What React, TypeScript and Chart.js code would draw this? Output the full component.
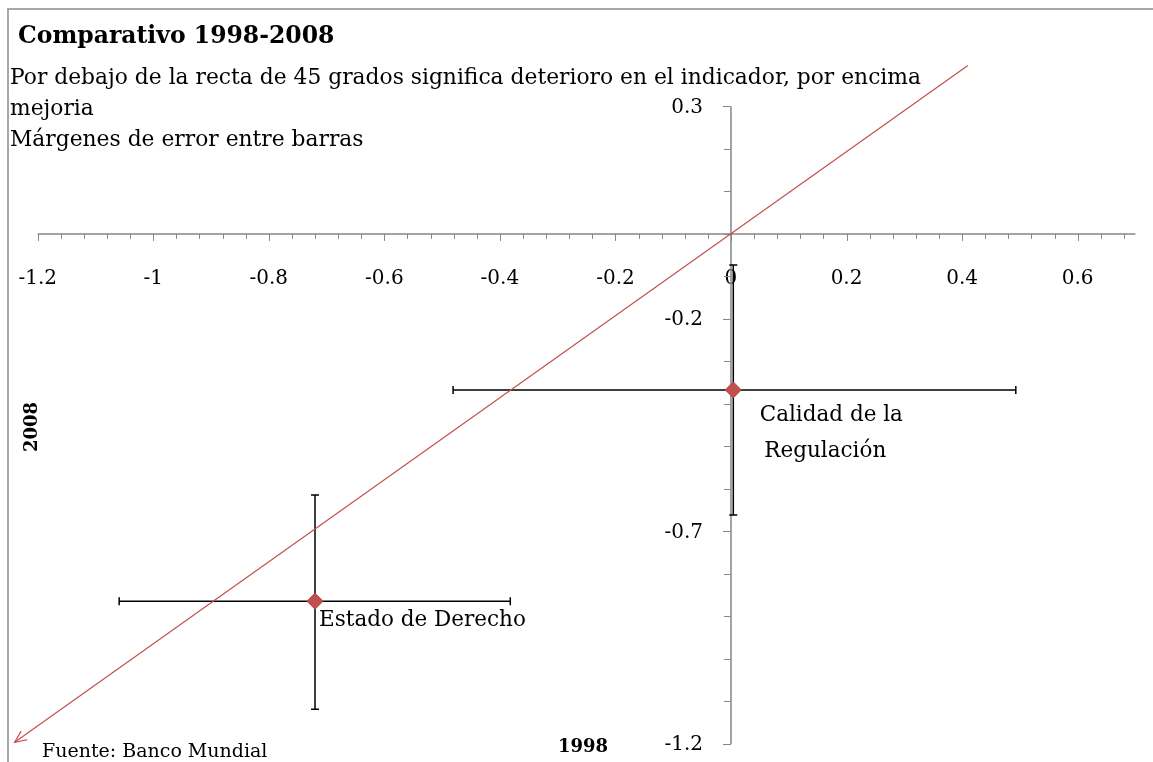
import React, { useEffect, useRef } from 'react';
import { Chart, registerables } from 'chart.js';

Chart.register(...registerables);

// ---- data ----
const categories = ['Calidad de la Regulación', 'Estado de Derecho'];
const x1998 = [0.004, -0.72];
const y2008 = [-0.367, -0.864];
const x1998Low = [-0.481, -1.059];
const x1998High = [0.493, -0.382];
const y2008Low = [-0.661, -1.118];
const y2008High = [-0.073, -0.614];
const refLineX = [-1.24, 0.41];
const refLineY = [-1.196, 0.396];
const xTickValues = [-1.2, -1, -0.8, -0.6, -0.4, -0.2, 0, 0.2, 0.4, 0.6];
const yTickValues = [-1.2, -0.7, -0.2, 0.3];
const xMinorStep = 0.04;
const xMajorStep = 0.2;
const yMinorStep = 0.1;
const yMajorStep = 0.5;

const titleText = 'Comparativo 1998-2008';
const subtitleLines = [
  'Por debajo de la recta de 45 grados significa deterioro en el indicador, por encima',
  'mejoria',
  'Márgenes de error entre barras',
];
const xAxisTitle = '1998';
const yAxisTitle = '2008';
const sourceText = 'Fuente: Banco Mundial';

const FONT = '"DejaVu Serif", serif';
const RED = '#C0504D';
const AXIS = '#868686';

const overlay = {
  id: 'overlay',
  beforeDatasetsDraw(chart: any) {
    const { ctx } = chart;
    const x = chart.scales.x;
    const y = chart.scales.y;
    ctx.save();
    // frame
    ctx.strokeStyle = '#a8a8a8';
    ctx.lineWidth = 2;
    ctx.beginPath();
    ctx.moveTo(8, 780);
    ctx.lineTo(8, 9);
    ctx.lineTo(1170, 9);
    ctx.stroke();

    const x0 = x.getPixelForValue(0);
    const y0 = y.getPixelForValue(0);
    // axis lines
    ctx.strokeStyle = AXIS;
    ctx.lineWidth = 1.5;
    ctx.beginPath();
    ctx.moveTo(x.left, y0);
    ctx.lineTo(x.right, y0);
    ctx.moveTo(x0, y.top);
    ctx.lineTo(x0, y.bottom);
    ctx.stroke();
    // x ticks
    ctx.lineWidth = 1;
    const nx = Math.round((x.max - x.min) / xMinorStep);
    for (let i = 0; i < nx; i++) {
      const v = x.min + i * xMinorStep;
      const r = v / xMajorStep;
      const major = Math.abs(r - Math.round(r)) < 1e-6;
      const px = Math.round(x.getPixelForValue(v)) + 0.5;
      ctx.beginPath();
      ctx.moveTo(px, y0);
      ctx.lineTo(px, y0 + (major ? 7 : 5));
      ctx.stroke();
    }
    // y ticks
    const ny = Math.round((y.max - y.min) / yMinorStep);
    for (let i = 0; i <= ny; i++) {
      const v = y.min + i * yMinorStep;
      const r = (v - y.min) / yMajorStep;
      const major = Math.abs(r - Math.round(r)) < 1e-6;
      const py = Math.round(y.getPixelForValue(v)) + 0.5;
      ctx.beginPath();
      ctx.moveTo(x0, py);
      ctx.lineTo(x0 - (major ? 8 : 7), py);
      ctx.stroke();
    }
    // y tick labels
    ctx.fillStyle = '#000';
    ctx.font = `20px ${FONT}`;
    ctx.textAlign = 'right';
    ctx.textBaseline = 'middle';
    yTickValues.forEach((v) => {
      ctx.fillText(String(v), x0 - 28, y.getPixelForValue(v) + 1);
    });
    // error bars
    ctx.strokeStyle = '#000';
    ctx.lineWidth = 1.5;
    const cap = 4;
    categories.forEach((_, i) => {
      const px = x.getPixelForValue(x1998[i]);
      const py = y.getPixelForValue(y2008[i]);
      const xl = x.getPixelForValue(x1998Low[i]);
      const xh = x.getPixelForValue(x1998High[i]);
      const yl = y.getPixelForValue(y2008Low[i]);
      const yh = y.getPixelForValue(y2008High[i]);
      ctx.beginPath();
      ctx.moveTo(xl, py);
      ctx.lineTo(xh, py);
      ctx.moveTo(xl, py - cap);
      ctx.lineTo(xl, py + cap);
      ctx.moveTo(xh, py - cap);
      ctx.lineTo(xh, py + cap);
      ctx.moveTo(px, yl);
      ctx.lineTo(px, yh);
      ctx.moveTo(px - cap, yl);
      ctx.lineTo(px + cap, yl);
      ctx.moveTo(px - cap, yh);
      ctx.lineTo(px + cap, yh);
      ctx.stroke();
    });
    ctx.restore();
  },
  afterDatasetsDraw(chart: any) {
    const { ctx } = chart;
    const x = chart.scales.x;
    const y = chart.scales.y;
    ctx.save();
    // arrow head at start of 45 degree line
    const ax = x.getPixelForValue(refLineX[0]);
    const ay = y.getPixelForValue(refLineY[0]);
    const bx = x.getPixelForValue(refLineX[1]);
    const by = y.getPixelForValue(refLineY[1]);
    const ang = Math.atan2(ay - by, ax - bx);
    const L = 13;
    const spread = 0.42;
    ctx.strokeStyle = RED;
    ctx.lineWidth = 1.2;
    ctx.beginPath();
    ctx.moveTo(ax - L * Math.cos(ang - spread), ay - L * Math.sin(ang - spread));
    ctx.lineTo(ax, ay);
    ctx.lineTo(ax - L * Math.cos(ang + spread), ay - L * Math.sin(ang + spread));
    ctx.stroke();

    ctx.fillStyle = '#000';
    ctx.textBaseline = 'alphabetic';
    // title
    ctx.font = `bold 23.5px ${FONT}`;
    ctx.textAlign = 'left';
    ctx.fillText(titleText, 18, 43);
    ctx.font = `21.8px ${FONT}`;
    subtitleLines.forEach((t, i) => ctx.fillText(t, 10, 84 + i * 31));

    // point labels
    ctx.font = `21.5px ${FONT}`;
    const p0x = x.getPixelForValue(x1998[0]);
    const p0y = y.getPixelForValue(y2008[0]);
    ctx.textAlign = 'center';
    ctx.fillText('Calidad de la', p0x + 98, p0y + 31);
    ctx.fillText('Regulación', p0x + 92, p0y + 67);
    const p1x = x.getPixelForValue(x1998[1]);
    const p1y = y.getPixelForValue(y2008[1]);
    ctx.textAlign = 'left';
    ctx.fillText('Estado de Derecho', p1x + 4, p1y + 25);

    // axis titles
    ctx.font = `bold 18px ${FONT}`;
    ctx.textAlign = 'center';
    ctx.fillText(xAxisTitle, 583, 752);
    ctx.save();
    ctx.translate(37, 427);
    ctx.rotate(-Math.PI / 2);
    ctx.fillText(yAxisTitle, 0, 0);
    ctx.restore();

    // source
    ctx.font = `19px ${FONT}`;
    ctx.textAlign = 'left';
    ctx.fillText(sourceText, 42, 757);
    ctx.restore();
  },
};

export default function App() {
  const ref = useRef<HTMLCanvasElement | null>(null);
  useEffect(() => {
    if (!ref.current) return;
    const chart = new Chart(ref.current, {
      type: 'scatter',
      data: {
        datasets: [
          {
            type: 'line',
            label: '45°',
            data: refLineX.map((v, i) => ({ x: v, y: refLineY[i] })),
            borderColor: RED,
            borderWidth: 1.2,
            pointRadius: 0,
            fill: false,
            clip: false,
            order: 2,
          } as any,
          {
            label: 'Indicadores',
            data: categories.map((_, i) => ({ x: x1998[i], y: y2008[i] })),
            pointStyle: 'rectRot',
            pointRadius: 8,
            pointHoverRadius: 8,
            backgroundColor: RED,
            borderColor: '#B4433F',
            borderWidth: 1,
            order: 1,
          },
        ],
      },
      options: {
        responsive: false,
        animation: false,
        devicePixelRatio: 1,
        events: [],
        layout: { padding: { left: 37.7, right: 17.6, top: 106.4, bottom: 18 } },
        plugins: { legend: { display: false }, tooltip: { enabled: false }, title: { display: false } },
        scales: {
          x: {
            type: 'linear',
            position: { y: 0 } as any,
            min: -1.2,
            max: 0.7,
            grid: {
              display: true,
              drawOnChartArea: false,
              drawTicks: true,
              tickLength: 33,
              tickColor: 'rgba(0,0,0,0)',
              color: 'rgba(0,0,0,0)',
            },
            border: { display: false },
            afterBuildTicks: (s: any) => {
              s.ticks = xTickValues.map((v) => ({ value: v }));
            },
            ticks: {
              padding: 0,
              color: '#000',
              font: { family: FONT, size: 20 },
              maxRotation: 0,
              autoSkip: false,
              callback: (v: any) => String(v),
            },
          },
          y: {
            type: 'linear',
            position: { x: 0 } as any,
            min: -1.2,
            max: 0.3,
            grid: { display: false, drawTicks: false },
            border: { display: false },
            afterBuildTicks: (s: any) => {
              s.ticks = yTickValues.map((v) => ({ value: v }));
            },
            ticks: { display: false, padding: 0 },
          },
        },
      },
      plugins: [overlay],
    });
    return () => chart.destroy();
  }, []);
  return (
    <canvas
      ref={ref}
      width={1153}
      height={762}
      style={{ position: 'fixed', left: 0, top: 0, width: 1153, height: 762, background: '#fff' }}
    />
  );
}
